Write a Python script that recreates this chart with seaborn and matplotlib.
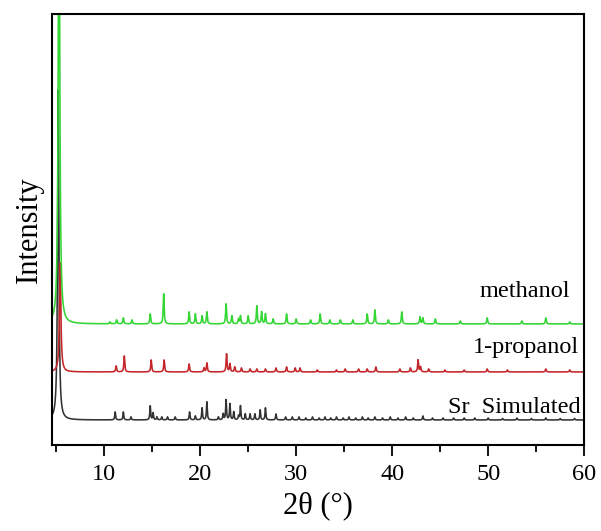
import numpy as np
import pandas as pd
import matplotlib
matplotlib.use("Agg")
import matplotlib.pyplot as plt
import seaborn as sns

# ---- data: peak positions (2theta) and heights above each trace's baseline ----
sim_pos = [5.22, 11.15, 12.0, 12.8, 14.8, 15.1, 15.5, 16.0, 16.6, 17.4, 18.9, 19.5,
           20.2, 20.7, 21.9, 22.4, 22.7, 23.1, 23.5, 24.0, 24.2, 24.7, 25.2, 25.7,
           26.25, 26.8, 27.9, 28.9, 29.6, 30.3, 31.0, 31.7, 32.4, 33.0, 33.6, 34.2,
           34.9, 35.5, 36.2, 36.9, 37.5, 38.2, 39.0, 39.8, 40.6, 41.4, 42.2, 43.2,
           44.2, 45.3, 46.4, 47.5, 48.6, 50.0, 51.5, 53.0, 54.5, 56.0, 57.5, 59.0]
sim_int = [330, 8, 8, 3, 14, 7, 3, 3, 3, 3, 8, 4,
           12, 18, 3, 6, 20, 16, 8, 4, 14, 6, 6, 6,
           10, 12, 6, 3, 3, 3, 2, 3, 2, 3, 2, 3,
           2, 3, 2, 3, 2, 3, 2, 3, 2, 3, 2, 4,
           2, 2, 2, 2, 2, 2, 1.5, 2, 1.5, 2, 1.5, 1.5]

prop_pos = [5.42, 11.25, 12.1, 14.9, 16.25, 18.85, 20.4, 20.7, 22.75, 23.1, 23.6,
            24.3, 25.2, 25.9, 26.8, 27.9, 29.0, 29.9, 30.4, 32.2, 34.2, 35.1, 36.5,
            37.4, 38.3, 40.8, 41.9, 42.7, 42.95, 43.8, 45.5, 47.5, 49.9, 52.0, 56.0, 58.5]
prop_int = [109, 6, 16, 12, 12, 8, 4, 9, 18, 8, 5,
            4, 3, 3, 3, 4, 5, 4, 4, 2, 2, 3, 3,
            3, 5, 3, 4, 12, 5, 3, 2, 2, 3, 2, 3, 2]

meth_pos = [5.3, 10.6, 11.3, 12.0, 12.9, 14.8, 16.2, 18.85, 19.5, 20.2, 20.7, 22.7,
            23.3, 24.0, 24.2, 25.0, 25.9, 26.4, 26.8, 27.6, 29.0, 30.0, 31.5, 32.5,
            33.5, 34.6, 35.9, 37.4, 38.2, 39.6, 41.0, 42.9, 43.2, 44.5, 47.1, 49.9,
            53.5, 56.0, 58.5]
meth_int = [500, 2, 4, 6, 4, 10, 30, 12, 10, 8, 12, 20,
            8, 5, 8, 8, 18, 12, 10, 5, 10, 5, 4, 10,
            4, 4, 4, 10, 14, 4, 12, 7, 6, 5, 3, 6,
            3, 6, 2]

baselines = {"Sr  Simulated": 25, "1-propanol": 73, "methanol": 121}
colors = {"Sr  Simulated": "#333333", "1-propanol": "#c4262a", "methanol": "#33d633"}
x_ticks = [10, 20, 30, 40, 50, 60]


def profile(x, pos, inten, width):
    y = np.zeros_like(x)
    for p, h in zip(pos, inten):
        w = width * (1.6 if h > 50 else 1.0)
        y += h / (1 + ((x - p) / w) ** 2)
    return y


x = np.arange(4.6, 60.0001, 0.01)
frames = []
for name, pos, inten, w in [("Sr  Simulated", sim_pos, sim_int, 0.05),
                            ("1-propanol", prop_pos, prop_int, 0.055),
                            ("methanol", meth_pos, meth_int, 0.055)]:
    frames.append(pd.DataFrame({"2theta": x,
                                "I": profile(x, pos, inten, w) + baselines[name],
                                "sample": name}))
df = pd.concat(frames, ignore_index=True)

sns.set_style("white")
plt.rcParams["font.family"] = ["Liberation Serif", "DejaVu Serif"]
plt.rcParams["text.color"] = "black"
plt.rcParams["axes.labelcolor"] = "black"
plt.rcParams["xtick.color"] = "black"

fig = plt.figure(figsize=(6.01, 5.31), dpi=100)
ax = fig.add_axes([0.087, 0.162, 0.885, 0.812])

sns.lineplot(data=df, x="2theta", y="I", hue="sample", palette=colors,
             hue_order=["Sr  Simulated", "1-propanol", "methanol"],
             ax=ax, linewidth=1.15, legend=False, estimator=None, sort=False)

ax.set_xlim(4.6, 60)
ax.set_ylim(0, 431)
ax.set_xticks(x_ticks)
ax.set_xticks(np.arange(5, 60, 10), minor=True)
ax.set_yticks([])
ax.tick_params(axis="x", which="major", direction="out", length=8, width=1.3,
               labelsize=17.5, pad=6, bottom=True, colors="black")
ax.tick_params(axis="x", which="minor", direction="out", length=5, width=1.3,
               bottom=True, colors="black")
for s in ax.spines.values():
    s.set_color("black")
    s.set_linewidth(1.5)

ax.set_xlabel("2θ (°)", fontsize=22, labelpad=4, color="black")
ax.set_ylabel("Intensity", fontsize=22, labelpad=6, color="black")

ax.text(0.974, 143, "methanol", transform=ax.get_yaxis_transform(),
        ha="right", va="bottom", fontsize=17.5, color="black")
ax.text(0.99, 87, "1-propanol", transform=ax.get_yaxis_transform(),
        ha="right", va="bottom", fontsize=17.5, color="black")
ax.text(0.993, 27, "Sr  Simulated", transform=ax.get_yaxis_transform(),
        ha="right", va="bottom", fontsize=17.5, color="black")

fig.savefig("out.png", dpi=100)
